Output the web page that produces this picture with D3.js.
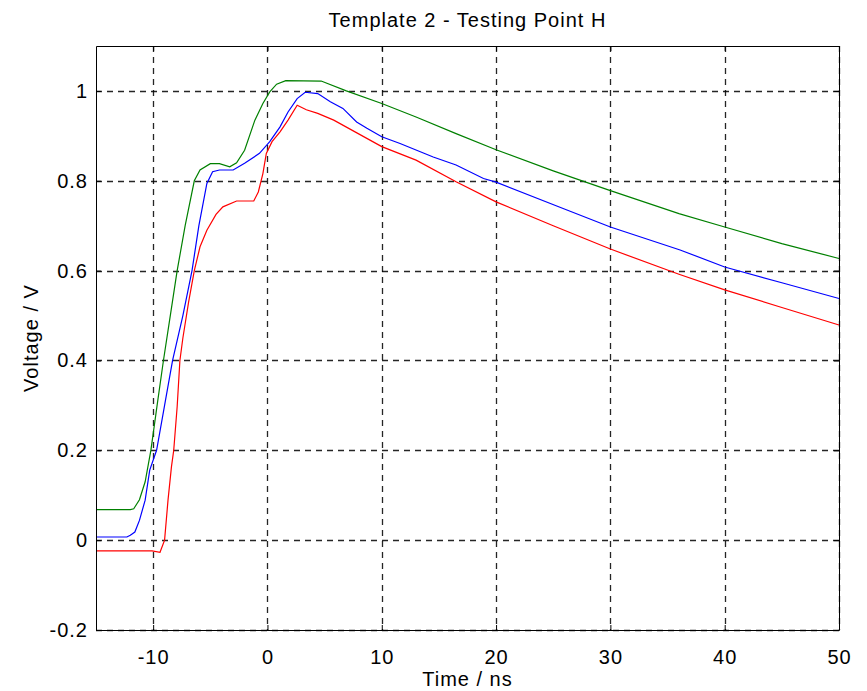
<!DOCTYPE html>
<html>
<head>
<meta charset="utf-8">
<script src="https://cdn.jsdelivr.net/npm/d3@7"></script>
<style>
  body { margin: 0; background: #fff; }
  text { font-family: "Liberation Sans", Arial, sans-serif; font-size: 20px; letter-spacing: 1px; fill: #000; }
  .c-grid line { stroke: #000; stroke-width: 1.3; stroke-dasharray: 6,5; opacity: 0.85; }
  .c-axis path, .c-axis line { stroke: #000; }
  .c-line { fill: none; stroke-width: 1.2; }
</style>
</head>
<body>
<div id="chart"></div>
<script>
// axis ticks
const xTicks = [-10, 0, 10, 20, 30, 40, 50];
const yTicks = [-0.2, 0, 0.2, 0.4, 0.6, 0.8, 1];

// time (ns) / voltage (V) pairs
const greenT = [-15, -12.0, -11.7, -11.2, -10.7, -10.2, -9.6, -9.1, -8.5, -7.9, -7.2, -6.4, -5.9, -5.0, -4.2, -3.3, -2.7, -2.0, -1.1, -0.4, 0.2, 0.8, 1.6, 4.7, 6.9, 10, 13, 16.5, 20, 25, 30, 36, 40, 45, 50];
const greenV = [0.068, 0.068, 0.070, 0.09, 0.13, 0.2, 0.31, 0.40, 0.50, 0.6, 0.70, 0.8, 0.824, 0.838, 0.838, 0.831, 0.84, 0.868, 0.935, 0.972, 0.998, 1.015, 1.023, 1.022, 1.0, 0.972, 0.942, 0.905, 0.869, 0.822, 0.778, 0.727, 0.697, 0.66, 0.627];

const blueT = [-15, -12.3, -12.0, -11.6, -11.2, -10.7, -10.3, -9.7, -9.0, -8.3, -7.4, -6.6, -6.0, -5.3, -4.8, -4.2, -3.0, -2.0, -0.7, 0.2, 1.1, 1.8, 2.6, 3.3, 4.4, 5.5, 6.6, 7.8, 8.7, 10, 11.6, 14.5, 16.5, 18.9, 20, 26.2, 30, 36.1, 40, 45, 50];
const blueV = [0.007, 0.007, 0.011, 0.018, 0.044, 0.089, 0.156, 0.2, 0.30, 0.4, 0.5, 0.6, 0.7, 0.794, 0.82, 0.824, 0.824, 0.839, 0.861, 0.887, 0.92, 0.953, 0.983, 0.997, 0.994, 0.976, 0.961, 0.931, 0.917, 0.898, 0.883, 0.853, 0.835, 0.805, 0.797, 0.735, 0.697, 0.646, 0.608, 0.573, 0.538];

const redT = [-15, -10.1, -9.4, -9.0, -8.7, -8.4, -8.2, -7.9, -7.66, -7.4, -6.9, -6.4, -5.9, -5.3, -4.5, -3.9, -2.7, -1.2, -0.8, -0.4, -0.1, 0.4, 1.1, 1.8, 2.6, 3.4, 4.4, 5.8, 10, 13, 16.5, 20, 25, 30, 36, 40, 45, 50];
const redV = [-0.024, -0.024, -0.027, 0.0, 0.089, 0.163, 0.2, 0.297, 0.4, 0.45, 0.53, 0.6, 0.653, 0.69, 0.725, 0.742, 0.755, 0.755, 0.775, 0.816, 0.861, 0.887, 0.909, 0.935, 0.968, 0.958, 0.950, 0.935, 0.876, 0.846, 0.798, 0.753, 0.70, 0.648, 0.592, 0.557, 0.518, 0.479];

const series = [
  { t: greenT, v: greenV, color: '#008000' },
  { t: blueT, v: blueV, color: '#0000ff' },
  { t: redT, v: redV, color: '#ff0000' }
];

const chartWidth = 867, chartHeight = 691;
const plotLeft = 96, plotRight = 839, plotTop = 46, plotBottom = 630;

const svg = d3.select('#chart').append('svg')
  .attr('width', chartWidth)
  .attr('height', chartHeight);

const xScale = d3.scaleLinear().domain([-15, 50]).range([plotLeft, plotRight]);
const yScale = d3.scaleLinear().domain([-0.2, 1.1]).range([plotBottom, plotTop]);

// dashed grid
const grid = svg.append('g').attr('class', 'c-grid');
grid.selectAll('.gx').data(xTicks).join('line')
  .attr('x1', d => Math.round(xScale(d)) + 0.5).attr('x2', d => Math.round(xScale(d)) + 0.5)
  .attr('y1', plotTop).attr('y2', plotBottom);
grid.selectAll('.gy').data(yTicks).join('line')
  .attr('y1', d => Math.round(yScale(d)) + 0.5).attr('y2', d => Math.round(yScale(d)) + 0.5)
  .attr('x1', plotLeft).attr('x2', plotRight);

// curves
const line = d3.line()
  .x(d => xScale(d[0]))
  .y(d => yScale(d[1]));

series.forEach(s => {
  svg.append('path')
    .attr('class', 'c-line')
    .attr('stroke', s.color)
    .attr('d', line(s.t.map((t, i) => [t, s.v[i]])));
});

// box with inward ticks
const fmt = d => String(d);
svg.append('g').attr('class', 'c-axis')
  .attr('transform', 'translate(0,' + plotBottom + ')')
  .call(d3.axisBottom(xScale).tickValues(xTicks).tickSize(-5).tickSizeOuter(0).tickPadding(20).tickFormat(fmt));
svg.append('g').attr('class', 'c-axis')
  .attr('transform', 'translate(0,' + plotTop + ')')
  .call(d3.axisTop(xScale).tickValues(xTicks).tickSize(-5).tickSizeOuter(0).tickFormat(''));
svg.append('g').attr('class', 'c-axis')
  .attr('transform', 'translate(' + plotLeft + ',0)')
  .call(d3.axisLeft(yScale).tickValues(yTicks).tickSize(-5).tickSizeOuter(0).tickPadding(8).tickFormat(fmt));
svg.append('g').attr('class', 'c-axis')
  .attr('transform', 'translate(' + plotRight + ',0)')
  .call(d3.axisRight(yScale).tickValues(yTicks).tickSize(-5).tickSizeOuter(0).tickFormat(''));

svg.selectAll('.c-axis text').style('font-size', '20px').style('font-family', '"Liberation Sans", Arial, sans-serif');

// titles
svg.append('text')
  .attr('x', (plotLeft + plotRight) / 2).attr('y', 27)
  .attr('text-anchor', 'middle')
  .text('Template 2 - Testing Point H');

svg.append('text')
  .attr('x', (plotLeft + plotRight) / 2).attr('y', 686)
  .attr('text-anchor', 'middle')
  .text('Time / ns');

svg.append('text')
  .attr('transform', 'translate(38,' + (plotTop + plotBottom) / 2 + ') rotate(-90)')
  .attr('text-anchor', 'middle')
  .text('Voltage / V');
</script>
</body>
</html>
